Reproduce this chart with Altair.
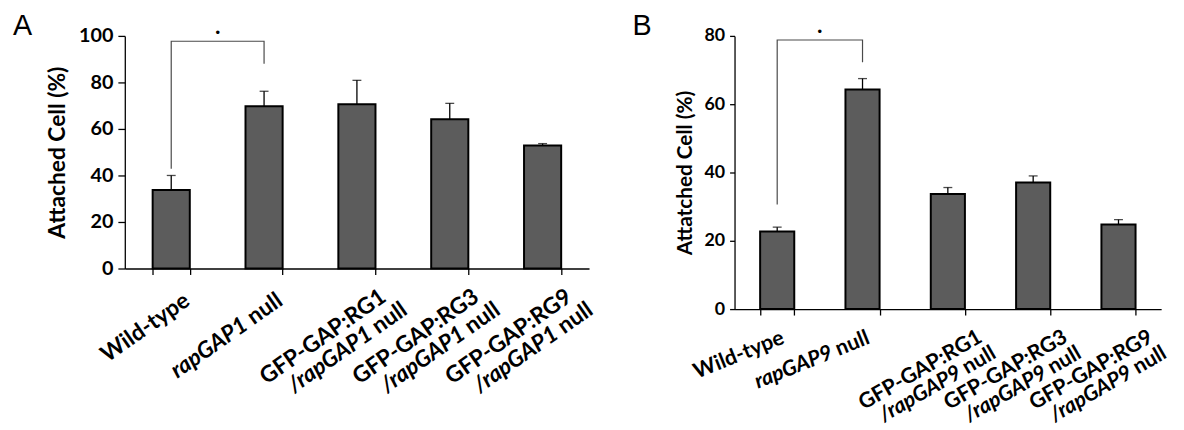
import altair as alt
import pandas as pd

FONT = "Lato"

# ---------------- Panel A data ----------------
CATS_A = ["Wild-type", "rapGAP1 null", "GFP-GAP:RG1/rapGAP1 null",
          "GFP-GAP:RG3/rapGAP1 null", "GFP-GAP:RG9/rapGAP1 null"]
L1_ITALIC_A = ["", "rapGAP1", "", "", ""]
L1_PLAIN_A = ["Wild-type", "null", "GFP-GAP:RG1", "GFP-GAP:RG3", "GFP-GAP:RG9"]
L2_ITALIC_A = ["", "", "/rapGAP1", "/rapGAP1", "/rapGAP1"]
L2_PLAIN_A = ["", "", "null", "null", "null"]
VALUES_A = [33.8, 69.8, 70.6, 64.2, 52.9]
ERRORS_A = [6.2, 6.4, 10.3, 6.8, 0.8]
BRACKET_CAT_A = ["Wild-type", "Wild-type", "rapGAP1 null", "rapGAP1 null"]
BRACKET_Y_A = [42.9, 97.7, 97.7, 88.0]
STAR_Y_A = [101.4]
YTICKS_A = [0, 20, 40, 60, 80, 100]

# ---------------- Panel B data ----------------
CATS_B = ["Wild-type", "rapGAP9 null", "GFP-GAP:RG1/rapGAP9 null",
          "GFP-GAP:RG3/rapGAP9 null", "GFP-GAP:RG9/rapGAP9 null"]
L1_ITALIC_B = ["", "rapGAP9", "", "", ""]
L1_PLAIN_B = ["Wild-type", "null", "GFP-GAP:RG1", "GFP-GAP:RG3", "GFP-GAP:RG9"]
L2_ITALIC_B = ["", "", "/rapGAP9", "/rapGAP9", "/rapGAP9"]
L2_PLAIN_B = ["", "", "null", "null", "null"]
VALUES_B = [22.7, 64.3, 33.7, 37.1, 24.8]
ERRORS_B = [1.3, 3.2, 1.9, 1.9, 1.4]
BRACKET_CAT_B = ["Wild-type", "Wild-type", "rapGAP9 null", "rapGAP9 null"]
BRACKET_Y_B = [30.6, 78.8, 78.8, 72.3]
STAR_Y_B = [81.0]
YTICKS_B = [0, 20, 40, 60, 80]


def panel(cats, l1i, l1p, l2i, l2p, vals, errs, bcat, by, stary, yticks,
          title, letter, W, H, fs_lab, fs_title, fs_x, angle_single,
          angle_double, off_single, off_l1, off_l2, letter_x, letter_y,
          title_pad, star_dx, label_pad, tick_size):
    df = pd.DataFrame({"cat": cats, "l1i": l1i, "l1p": l1p, "l2i": l2i,
                       "l2p": l2p, "val": vals, "err": errs})
    ymax = yticks[-1]
    xdef = dict(
        scale=alt.Scale(domain=cats, paddingInner=0.6, paddingOuter=0.3),
        axis=alt.Axis(labels=False, title=None, tickBand="extent",
                      domainColor="black", tickColor="black", tickSize=6,
                      domainWidth=1.3, tickWidth=1.3, grid=False),
    )
    yaxis = alt.Axis(values=yticks, grid=False, domainColor="black",
                     domainWidth=1.3, tickColor="black", tickSize=tick_size,
                     tickWidth=1.3, labelFont=FONT, labelFontWeight="bold",
                     labelFontSize=fs_lab, labelColor="black",
                     labelPadding=label_pad,
                     titleFont=FONT, titleFontWeight="bold",
                     titleFontSize=fs_title, titleColor="black",
                     titlePadding=title_pad)
    yscale = alt.Scale(domain=[0, ymax], nice=False)

    def Y(field):
        return alt.Y(field, scale=yscale, axis=yaxis, title=title)

    X = alt.X("cat:N", **xdef)
    base = alt.Chart(df)
    bars = base.mark_bar(color="#5c5c5c", stroke="black", strokeWidth=2).encode(
        x=X, y=Y("val:Q"))
    err_rule = base.transform_calculate(top="datum.val + datum.err").mark_rule(
        color="black", strokeWidth=1.3).encode(x=X, y=Y("val:Q"), y2="top:Q")
    err_cap = base.transform_calculate(top="datum.val + datum.err").mark_tick(
        color="black", thickness=1.3, size=9).encode(x=X, y=Y("top:Q"))

    bdf = pd.DataFrame({"cat": bcat, "by": by, "i": list(range(len(by)))})
    bracket = alt.Chart(bdf).mark_line(color="#4a4a4a", strokeWidth=1.2).encode(
        x=X, y=Y("by:Q"), order="i:Q")

    sdf = pd.DataFrame({"cat": [cats[0]], "sy": stary, "t": ["•"]})
    star = alt.Chart(sdf).mark_text(dx=star_dx, fontSize=13, color="black").encode(
        x=X, y=Y("sy:Q"), text="t:N")

    ldf = pd.DataFrame({"t": [letter]})
    letter_mark = alt.Chart(ldf).mark_text(
        align="left", baseline="top", font="Liberation Sans", fontSize=29,
        color="black").encode(x=alt.value(letter_x), y=alt.value(letter_y),
                              text="t:N")

    y0 = alt.YDatum(0, scale=yscale, axis=yaxis, title=title)
    null_w = 1.86 * fs_x

    def text_layers(data, itcol, plcol, dx, dy, angle):
        common = dict(align="right", baseline="middle", angle=angle,
                      font=FONT, fontWeight="bold", fontSize=fs_x,
                      color="black")
        plain = alt.Chart(data).mark_text(dx=dx, dy=dy, **common).encode(
            x=X, y=y0, text=f"{plcol}:N")
        ital = alt.Chart(data).transform_filter(f"datum.{itcol} != ''").mark_text(
            dx=dx - null_w, dy=dy, fontStyle="italic", **common).encode(
            x=X, y=y0, text=f"{itcol}:N")
        return [plain, ital]

    single = df[df.l2p == ""]
    double = df[df.l2p != ""]
    labels = []
    labels += text_layers(single, "l1i", "l1p", *off_single, angle_single)
    labels += text_layers(double, "l1i", "l1p", *off_l1, angle_double)
    labels += text_layers(double, "l2i", "l2p", *off_l2, angle_double)

    return alt.layer(bars, err_rule, err_cap, bracket, star, *labels,
                     letter_mark).properties(width=W, height=H)


chart_a = panel(CATS_A, L1_ITALIC_A, L1_PLAIN_A, L2_ITALIC_A, L2_PLAIN_A,
                VALUES_A, ERRORS_A, BRACKET_CAT_A, BRACKET_Y_A, STAR_Y_A,
                YTICKS_A, "Attached Cell (%)", "A", 469, 235,
                20, 23, 23, 325, 325, (-4, 34), (7, 37), (17, 60),
                -113, -24, 9, 47, 5, 7)

chart_b = panel(CATS_B, L1_ITALIC_B, L1_PLAIN_B, L2_ITALIC_B, L2_PLAIN_B,
                VALUES_B, ERRORS_B, BRACKET_CAT_B, BRACKET_Y_B, STAR_Y_B,
                YTICKS_B, "Attatched Cell (%)", "B", 431, 276,
                18, 21, 21.5, 338, 330, (-5, 29), (15, 40), (19, 61),
                -103, -24, 9, 43, 5, 5)

chart = alt.hconcat(chart_a, chart_b, spacing=147, bounds="flush").configure_view(
    stroke=None).properties(
    background="white",
    padding={"left": 5, "top": 2, "right": 5, "bottom": 5})

chart.save("out.html", embed_options={"renderer": "svg", "actions": False})
